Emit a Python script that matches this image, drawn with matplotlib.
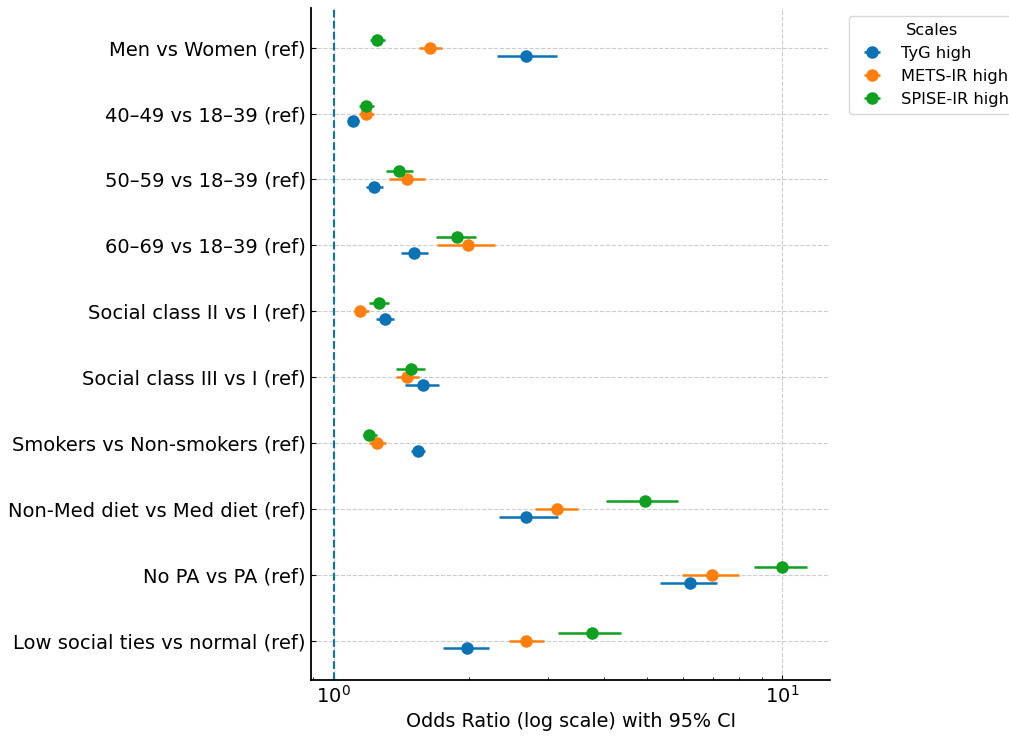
import matplotlib
matplotlib.use('Agg')
import matplotlib.pyplot as plt
import numpy as np

# comparisons (top to bottom)
labels = ["Men vs Women (ref)", "40–49 vs 18–39 (ref)", "50–59 vs 18–39 (ref)",
          "60–69 vs 18–39 (ref)", "Social class II vs I (ref)", "Social class III vs I (ref)",
          "Smokers vs Non-smokers (ref)", "Non-Med diet vs Med diet (ref)",
          "No PA vs PA (ref)", "Low social ties vs normal (ref)"]

# TyG high
tyg_or = [2.68, 1.106, 1.23, 1.51, 1.30, 1.58, 1.54, 2.69, 6.23, 1.98]
tyg_lo = [2.31, 1.08, 1.18, 1.41, 1.24, 1.44, 1.49, 2.34, 5.33, 1.75]
tyg_hi = [3.15, 1.14, 1.29, 1.62, 1.36, 1.72, 1.60, 3.16, 7.14, 2.22]

# METS-IR high
mets_or = [1.638, 1.18, 1.458, 1.99, 1.147, 1.458, 1.249, 3.14, 6.98, 2.69]
mets_lo = [1.55, 1.14, 1.33, 1.70, 1.11, 1.38, 1.20, 2.81, 5.98, 2.46]
mets_hi = [1.74, 1.23, 1.60, 2.29, 1.20, 1.55, 1.31, 3.50, 8.00, 2.94]

# SPISE-IR high
spise_or = [1.249, 1.18, 1.399, 1.88, 1.26, 1.49, 1.20, 4.95, 10.0, 3.77]
spise_lo = [1.204, 1.14, 1.31, 1.69, 1.20, 1.38, 1.16, 4.04, 8.66, 3.16]
spise_hi = [1.298, 1.23, 1.50, 2.08, 1.33, 1.60, 1.25, 5.86, 11.37, 4.38]

series = [
    ("TyG high", tyg_or, tyg_lo, tyg_hi, "#0b72b5", 0.12),
    ("METS-IR high", mets_or, mets_lo, mets_hi, "#ff7f0e", 0.0),
    ("SPISE-IR high", spise_or, spise_lo, spise_hi, "#0fa01f", -0.12),
]

fig = plt.figure(figsize=(10.09, 7.36), dpi=100)
ax = fig.add_axes([0.308, 0.076, 0.515, 0.913])

y = np.arange(len(labels))
for name, est, lo, hi, color, off in series:
    est = np.array(est)
    err = [est - np.array(lo), np.array(hi) - est]
    ax.errorbar(est, y + off, xerr=err, fmt='o', color=color, ecolor=color,
                markersize=8, elinewidth=1.8, capsize=0, label=name)

ax.axvline(1, color="#0b72b5", linestyle='--', linewidth=1.5)
ax.set_xscale('log')
ax.set_xlim(0.889, 12.8)
ax.set_ylim(9.6, -0.6)
ax.set_yticks(y)
ax.set_yticklabels(labels, fontsize=14)
ax.tick_params(axis='x', labelsize=14)
ax.tick_params(which='both', direction='in')
ax.set_xlabel("Odds Ratio (log scale) with 95% CI", fontsize=13.8)
ax.grid(True, linestyle='--', color='#cccccc', linewidth=0.8)
ax.set_axisbelow(True)
for s in ['top', 'right']:
    ax.spines[s].set_visible(False)
ax.spines['left'].set_linewidth(1.3)
ax.spines['bottom'].set_linewidth(1.3)

ax.legend(title="Scales", loc='upper left', bbox_to_anchor=(1.02, 1.0),
          fontsize=11.7, title_fontsize=11.7)

fig.savefig("out.png", dpi=100)
